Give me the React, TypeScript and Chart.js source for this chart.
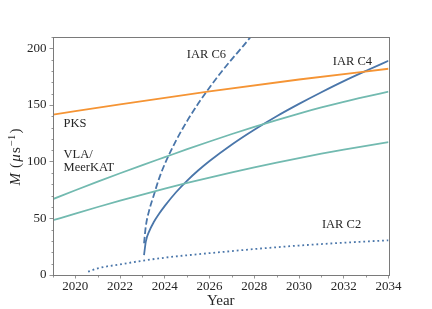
import React, { useEffect, useRef } from 'react';
import { Chart, registerables } from 'chart.js';

Chart.register(...registerables);

// ---- data ----
const xTicks = [2020, 2022, 2024, 2026, 2028, 2030, 2032, 2034];
const xMinorTicks = [2019, 2021, 2023, 2025, 2027, 2029, 2031, 2033];
const yTicks = [0, 50, 100, 150, 200];
const yMinorTicks = [10, 20, 30, 40, 60, 70, 80, 90, 110, 120, 130, 140, 160, 170, 180, 190, 210];

const pksYears = [2019, 2022, 2026, 2030, 2034];
const pksValues = [141.5, 150.5, 162, 172.5, 182];

const vlaYears = [2019, 2020, 2021, 2022, 2023, 2024, 2025, 2026, 2027, 2028, 2029, 2030, 2031, 2032, 2033, 2034];
const vlaUpperValues = [67, 74.8, 82.4, 89.8, 97, 104, 111, 117.8, 124.4, 130.7, 136.7, 142.4, 147.8, 152.8, 157.4, 161.8];
const vlaLowerValues = [48.3, 54.2, 60, 65.6, 71, 76.2, 81.2, 86, 90.6, 95, 99.2, 103.2, 107, 110.6, 114, 117.2];

const c4Years = [2023.07, 2023.15, 2023.3, 2023.5, 2023.75, 2024, 2024.5, 2025, 2025.5, 2026, 2027, 2028, 2029, 2030, 2031, 2032, 2033, 2034];
const c4Values = [17.6, 29.5, 38.5, 46.5, 54.2, 61, 73, 83.3, 92.4, 100.6, 115.2, 128.2, 140.1, 151, 161.3, 171.1, 180.2, 189];

const c6Years = [2023.07, 2023.15, 2023.3, 2023.5, 2023.75, 2024, 2024.5, 2025, 2025.5, 2026, 2026.5, 2027, 2027.5, 2028];
const c6Values = [28, 43, 57, 70, 85.5, 98, 118.5, 136, 151.5, 165.5, 178.5, 190.5, 202, 214];

const c2Years = [2020.57, 2021, 2022, 2023, 2024, 2025, 2026, 2027, 2028, 2029, 2030, 2031, 2032, 2033, 2034];
const c2Values = [2.9, 5.9, 9.4, 12.6, 15.3, 17.4, 19.3, 21.1, 22.9, 24.5, 26, 27.3, 28.5, 29.6, 30.6];

const labelTexts = ['IAR C6', 'IAR C4', 'IAR C2', 'PKS', 'VLA/', 'MeerKAT'];
const labelX = [2025.86, 2032.39, 2031.9, 2019.47, 2019.47, 2019.47];
const labelY = [194.2, 188.3, 44.1, 133.9, 106.5, 95];
const labelAlign = ['center', 'center', 'center', 'left', 'left', 'left'];

// ---- styles ----
const ORANGE = '#f59434';
const TEAL = '#72bab0';
const BLUE = '#4a76aa';
const AXIS = '#7a7a7a';
const TEXT = '#262626';
const SERIF = '"Liberation Serif", "Times New Roman", serif';

const toPts = (xs: number[], ys: number[]) => xs.map((x, i) => ({ x, y: ys[i] }));

const decorPlugin = {
  id: 'decor',
  afterDraw(chart: any) {
    const { ctx, chartArea, scales } = chart;
    const xs = scales.x;
    const ys = scales.y;
    ctx.save();
    // frame
    ctx.strokeStyle = AXIS;
    ctx.lineWidth = 1;
    ctx.strokeRect(Math.round(chartArea.left) + 0.5, Math.round(chartArea.top) + 0.5,
      Math.round(chartArea.right) - Math.round(chartArea.left), Math.round(chartArea.bottom) - Math.round(chartArea.top));
    // minor ticks
    ctx.lineWidth = 0.8;
    ctx.beginPath();
    xMinorTicks.forEach((v) => {
      const px = Math.round(xs.getPixelForValue(v)) + 0.5;
      const b = Math.round(chartArea.bottom) + 0.5;
      ctx.moveTo(px, b);
      ctx.lineTo(px, b + 2);
    });
    yMinorTicks.forEach((v) => {
      const py = Math.round(ys.getPixelForValue(v)) + 0.5;
      const l = Math.round(chartArea.left) + 0.5;
      ctx.moveTo(l, py);
      ctx.lineTo(l - 2, py);
    });
    ctx.stroke();

    // annotations
    ctx.fillStyle = TEXT;
    ctx.font = `12.5px ${SERIF}`;
    ctx.textBaseline = 'middle';
    labelTexts.forEach((t, i) => {
      ctx.textAlign = labelAlign[i] as CanvasTextAlign;
      ctx.fillText(t, xs.getPixelForValue(labelX[i]), ys.getPixelForValue(labelY[i]));
    });

    // y-axis title: M (μs^-1)
    const cx = 15;
    const cy = (chartArea.top + chartArea.bottom) / 2 + 1;
    ctx.translate(cx, cy);
    ctx.rotate(-Math.PI / 2);
    const pieces: [string, string, number][] = [
      ['M', `italic 15px ${SERIF}`, 0],
      [' (', `15px ${SERIF}`, 0],
      ['μ', `italic 15px ${SERIF}`, 0],
      ['s', `15px ${SERIF}`, 0],
      ['−1', `10.5px ${SERIF}`, -5],
      [')', `15px ${SERIF}`, 0],
    ];
    const gap = 1.2;
    let total = 0;
    const widths = pieces.map(([t, f]) => { ctx.font = f; const w = ctx.measureText(t).width; total += w + gap; return w; });
    total -= gap;
    let x = -total / 2;
    ctx.textAlign = 'left';
    ctx.textBaseline = 'alphabetic';
    pieces.forEach(([t, f, dy], i) => {
      ctx.font = f;
      ctx.fillText(t, x, 5 + dy);
      x += widths[i] + gap;
    });
    ctx.restore();
  },
};

export default function App() {
  const ref = useRef<HTMLCanvasElement | null>(null);
  useEffect(() => {
    if (!ref.current) return;
    const common = { borderWidth: 1.8, pointRadius: 0, cubicInterpolationMode: 'monotone', fill: false };
    const chart = new Chart(ref.current, {
      type: 'line',
      data: {
        datasets: [
          { label: 'PKS', data: toPts(pksYears, pksValues), borderColor: ORANGE, ...common },
          { label: 'VLA/MeerKAT upper', data: toPts(vlaYears, vlaUpperValues), borderColor: TEAL, ...common },
          { label: 'VLA/MeerKAT lower', data: toPts(vlaYears, vlaLowerValues), borderColor: TEAL, ...common },
          { label: 'IAR C4', data: toPts(c4Years, c4Values), borderColor: BLUE, ...common },
          { label: 'IAR C6', data: toPts(c6Years, c6Values), borderColor: BLUE, borderDash: [6.5, 2.8], ...common, clip: 0 },
          { label: 'IAR C2', data: toPts(c2Years, c2Values), borderColor: BLUE, borderDash: [1.8, 2.9], ...common },
        ] as any,
      },
      options: {
        animation: false,
        responsive: false,
        devicePixelRatio: 1,
        layout: { padding: { top: 37, right: 43.5, left: 0, bottom: 0 } },
        plugins: { legend: { display: false }, tooltip: { enabled: false } },
        scales: {
          x: {
            type: 'linear',
            min: 2019,
            max: 2034,
            afterBuildTicks: (s: any) => { s.ticks = xTicks.map((v) => ({ value: v })); },
            afterFit: (s: any) => { s.height = 34; },
            grid: { drawOnChartArea: false, drawTicks: true, tickLength: 3.5, tickColor: AXIS, tickWidth: 0.8 },
            border: { display: false },
            ticks: { color: TEXT, font: { family: SERIF, size: 13 }, padding: 0, maxRotation: 0, autoSkip: false, callback: (v: any) => String(v) },
            title: { display: true, text: 'Year', color: TEXT, font: { family: SERIF, size: 15, lineHeight: 1 }, padding: { top: 0, bottom: 0 } },
          },
          y: {
            type: 'linear',
            min: 0,
            max: 210,
            afterBuildTicks: (s: any) => { s.ticks = yTicks.map((v) => ({ value: v })); },
            afterFit: (s: any) => { s.width = 53; },
            grid: { drawOnChartArea: false, drawTicks: true, tickLength: 3.5, tickColor: AXIS, tickWidth: 0.8 },
            border: { display: false },
            ticks: { color: TEXT, font: { family: SERIF, size: 13 }, padding: 3, autoSkip: false },
          },
        },
      },
      plugins: [decorPlugin],
    });
    return () => chart.destroy();
  }, []);
  return (
    <div style={{ position: 'absolute', left: 0, top: 0, width: 432, height: 309, background: '#fff' }}>
      <canvas ref={ref} width={432} height={309} style={{ width: 432, height: 309, display: 'block' }} />
    </div>
  );
}
